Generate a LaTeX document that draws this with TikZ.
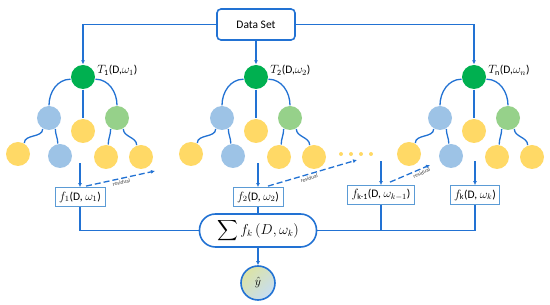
\documentclass[tikz,border=0pt]{standalone}
\usepackage{amsmath}
\usepackage{fontspec}
\setmainfont{Carlito}
\usetikzlibrary{arrows.meta}
\definecolor{lineblue}{HTML}{2272D3}
\definecolor{boxblue}{HTML}{5B9BD5}
\definecolor{rootgreen}{HTML}{00B050}
\definecolor{leafblue}{HTML}{9DC3E6}
\definecolor{leafyellow}{HTML}{FFD966}
\definecolor{leafgreen}{HTML}{96D18A}
\definecolor{shadeyellow}{HTML}{DCE3A4}
\definecolor{shadeblue}{HTML}{C6DDF3}
\begin{document}
\begin{tikzpicture}[x=1pt, y=1pt, line width=1.3pt, color=lineblue,
    every node/.append style={font=\fontsize{11.5}{13}\selectfont, text=black},
    dot/.style={circle, minimum size=24pt, inner sep=0pt},
    fbox/.style={draw=boxblue, line width=0.8pt, minimum height=19pt, inner xsep=4pt, inner ysep=0pt, fill=white},
    arr/.style={-{Latex[length=4pt,width=4pt]}},
    resid/.style={arr, dash pattern=on 6pt off 3pt},
    restext/.style={font=\fontsize{5.5}{6}\selectfont, text=black!75, inner sep=1.5pt}]
  \useasboundingbox (0,0) rectangle (550,305);
  \node[draw, rounded corners=4pt, line width=1.6pt, minimum width=78pt, minimum height=31pt] (data) at (256,280.5) {Data Set};
  \foreach \t/\x/\i in {1/83/1, 2/256/2, n/474/n}{
    \node[dot, fill=rootgreen]  (t\t-root) at (\x,228) {};
    \node[dot, fill=leafblue]   (t\t-l)  at (\x-34,187) {};
    \node[dot, fill=leafyellow] (t\t-m)  at (\x,174) {};
    \node[dot, fill=leafgreen]  (t\t-r)  at (\x+34,187) {};
    \node[dot, fill=leafyellow] (t\t-ll) at (\x-65,151) {};
    \node[dot, fill=leafblue]   (t\t-lr) at (\x-23,149) {};
    \node[dot, fill=leafyellow] (t\t-rl) at (\x+23,148) {};
    \node[dot, fill=leafyellow] (t\t-rr) at (\x+58,148) {};
    \node[anchor=west, inner sep=1pt] (t\t-lab) at ([yshift=7pt]t\t-root.east) {$T_{\text{\i}}$(D,$\omega_{\i}$)};
    \draw (t\t-root.190) to[out=180,in=90] (t\t-l.north);
    \draw (t\t-root.-10) to[out=0,in=90] (t\t-r.north);
    \draw (t\t-root) -- (t\t-m);
    \draw (t\t-l.-120) to[out=-90,in=90] (t\t-ll.60);
    \draw (t\t-l.-60) to[out=-90,in=90] (t\t-lr.100);
    \draw (t\t-r.-120) to[out=-90,in=90] (t\t-rl.80);
    \draw (t\t-r.-60) to[out=-90,in=90] (t\t-rr.110);
  }
  \draw[arr] (data.west) -| (t1-root.north);
  \draw[arr] (data.south) -- (t2-root.north);
  \draw[arr] (data.east) -| (tn-root.north);
  \foreach \d in {341,351,361,371} \fill[leafyellow] (\d,151) circle (2pt);
  \node[fbox] (f1)  at (80,108)  {$f_1$(D, $\omega_1$)};
  \node[fbox] (f2)  at (258,108) {$f_2$(D, $\omega_2$)};
  \node[fbox] (fk1) at (381,110) {$f_{\text{k-1}}$(D, $\omega_{k-1}$)};
  \node[fbox] (fk)  at (475,110) {$f_{\text{k}}$(D, $\omega_k$)};
  \foreach \f in {f1,f2,fk1,fk} \draw[arr] ([yshift=24pt]\f.north) -- (\f.north);
  \coordinate (r1) at (155,134);
  \coordinate (r2) at (357,145);
  \coordinate (rk1) at (430,140);
  \draw[resid] ([xshift=6pt,yshift=1pt]f1.north) -- node[below, sloped, restext] {residual} (r1);
  \draw[resid] ([xshift=10pt,yshift=1pt]f2.north) -- node[below, sloped, pos=0.45, restext] {residual} (r2);
  \draw[resid] ([xshift=9pt,yshift=3pt]fk1.north) -- node[below, sloped, pos=0.75, restext] {residual} (rk1);
  \node[draw, line width=1.6pt, rounded corners=16pt, minimum width=117pt, minimum height=33pt, fill=white] (sum) at (258,74.5)
    {\fontsize{13.5}{15}\selectfont$\displaystyle\sum f_k\,(D,\omega_k)$};
  \node[circle, draw, line width=1.6pt, minimum size=34pt, inner sep=0pt, top color=shadeyellow, middle color=white!92!yellow, bottom color=shadeblue, shading angle=45] (yhat) at (258,22) {$\hat{y}$};
  \draw (f1) |- (sum);
  \draw (f2) -- (sum);
  \draw (fk) |- (sum);
  \draw (fk1) -- (fk1 |- sum);
  \draw[arr] (sum) -- (yhat);
\end{tikzpicture}
\end{document}
